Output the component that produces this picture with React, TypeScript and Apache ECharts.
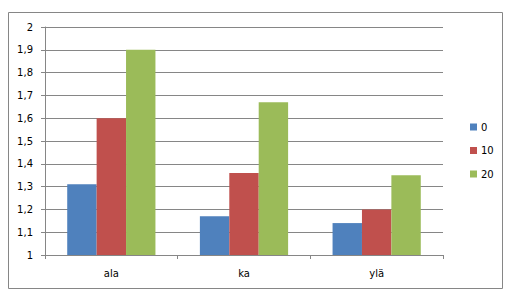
import React, { useEffect, useRef } from "react";
import * as echarts from "echarts";

const categories = ["ala", "ka", "ylä"];
const seriesNames = ["0", "10", "20"];
const values0 = [1.31, 1.17, 1.14];
const values10 = [1.6, 1.36, 1.2];
const values20 = [1.9, 1.67, 1.35];
const colors = ["#4F81BD", "#C0504D", "#9BBB59"];

const FONT = "DejaVu Sans";
const GRAY = "#868686";

export default function App() {
  const ref = useRef<HTMLDivElement>(null);
  useEffect(() => {
    if (!ref.current) return;
    const chart = echarts.init(ref.current, undefined, { renderer: "svg" });
    const data = [values0, values10, values20];
    chart.setOption({
      animation: false,
      backgroundColor: "#ffffff",
      textStyle: { fontFamily: FONT },
      graphic: [
        {
          type: "rect",
          shape: { x: 8.5, y: 12.5, width: 494, height: 276 },
          style: { fill: "none", stroke: GRAY, lineWidth: 1 },
          silent: true,
        },
      ],
      grid: { left: 45, top: 27, right: 71, bottom: 43, containLabel: false },
      legend: {
        orient: "vertical",
        left: 465,
        top: 117,
        itemWidth: 7,
        itemHeight: 7,
        itemGap: 13.5,
        icon: "rect",
        data: seriesNames,
        textStyle: { fontFamily: FONT, fontSize: 10, color: "#000", padding: [0, 0, 0, -1] },
      },
      xAxis: {
        type: "category",
        data: categories,
        axisLine: { lineStyle: { color: GRAY } },
        axisTick: { show: true, alignWithLabel: false, length: 4, lineStyle: { color: GRAY } },
        axisLabel: { fontFamily: FONT, fontSize: 10, color: "#000", margin: 13 },
      },
      yAxis: {
        type: "value",
        min: 1,
        max: 2,
        interval: 0.1,
        axisLine: { show: true, lineStyle: { color: GRAY } },
        axisTick: { show: true, length: 4, lineStyle: { color: GRAY } },
        splitLine: { show: true, lineStyle: { color: GRAY } },
        axisLabel: {
          fontFamily: FONT,
          fontSize: 10,
          color: "#000",
          margin: 12,
          formatter: (v: number) => {
            const r = Math.round(v * 10) / 10;
            return Number.isInteger(r) ? String(r) : r.toFixed(1).replace(".", ",");
          },
        },
      },
      series: seriesNames.map((name, i) => ({
        name,
        type: "bar",
        data: data[i],
        barGap: "0%",
        barCategoryGap: "33.5%",
        itemStyle: { color: colors[i] },
      })),
    });
    return () => chart.dispose();
  }, []);
  return (
    <div
      ref={ref}
      style={{ position: "absolute", left: 0, top: 0, width: 514, height: 298 }}
    />
  );
}
